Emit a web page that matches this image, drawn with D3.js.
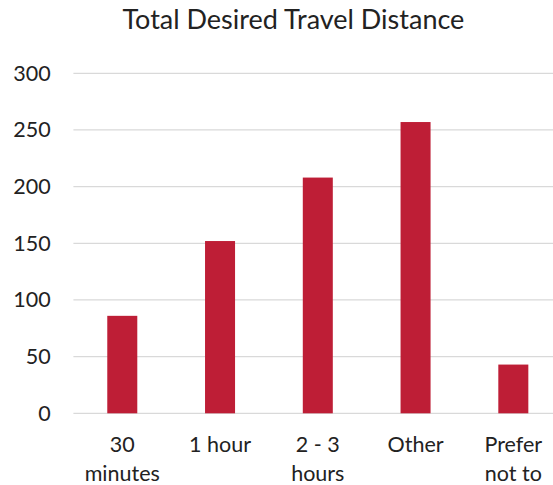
<!DOCTYPE html>
<html><head><meta charset="utf-8">
<script src="https://cdn.jsdelivr.net/npm/d3@7"></script>
<style>html,body{margin:0;padding:0;background:#fff;overflow:hidden}</style>
</head><body><svg id="c" width="553" height="485"></svg>
<script>
const categories = [["30","minutes"],["1 hour"],["2 - 3","hours"],["Other"],["Prefer","not to"]];
const values = [86, 152, 208, 257, 43];
const yTicks = [0, 50, 100, 150, 200, 250, 300];
const title = "Total Desired Travel Distance";

const svg = d3.select("#c");
const font = "Lato, 'Open Sans', sans-serif";
const keys = categories.map((c,i)=>i);
const x = d3.scaleBand().domain(keys).range([73.4, 562.2]).paddingInner(0.693).paddingOuter(0.3465);
const y = d3.scaleLinear().domain([0,300]).range([413.3, 73.3]);

svg.append("g").selectAll("line").data(yTicks).join("line")
  .attr("x1", 73.4).attr("x2", 553)
  .attr("y1", d=>y(d)).attr("y2", d=>y(d))
  .attr("stroke", "#d9d9d9").attr("stroke-width", 1.3);

svg.append("g").selectAll("text").data(yTicks).join("text")
  .attr("x", 50.7).attr("y", d=>y(d)).attr("dy","0.35em")
  .attr("text-anchor","end").attr("font-family",font).attr("font-size",21.5)
  .attr("fill","#222").text(d=>d);

svg.append("g").selectAll("rect").data(values).join("rect")
  .attr("x",(d,i)=>x(i)).attr("width",x.bandwidth())
  .attr("y",d=>y(d)).attr("height",d=>y(0)-y(d))
  .attr("fill","#be1e36");

const lab = svg.append("g").selectAll("text").data(categories).join("text")
  .attr("text-anchor","middle").attr("font-family",font).attr("font-size",21.5)
  .attr("fill","#222");
lab.each(function(lines,i){
  d3.select(this).selectAll("tspan").data(lines).join("tspan")
    .attr("x", x(i)+x.bandwidth()/2).attr("y",(d,j)=>452.3 + j*28.7).text(d=>d);
});

svg.append("text").attr("x",293.4).attr("y",29.3).attr("text-anchor","middle")
  .attr("font-family",font).attr("font-size",27).attr("fill","#222").text(title);
</script></body></html>
